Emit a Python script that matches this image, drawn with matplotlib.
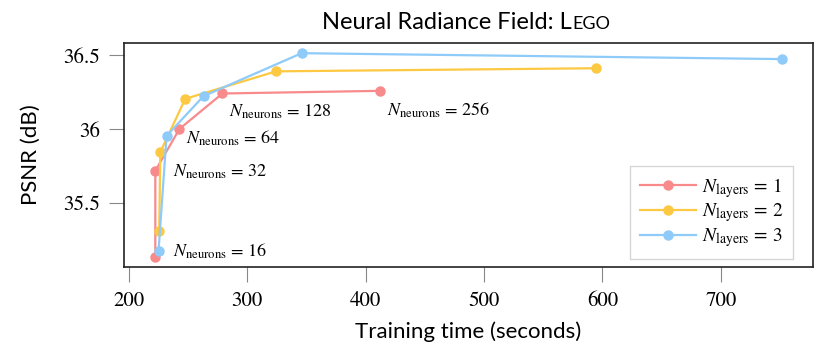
import matplotlib
matplotlib.use("Agg")
import matplotlib.pyplot as plt

plt.rcParams['mathtext.fontset'] = 'stix'

neurons = [16, 32, 64, 128, 256]
time_l1 = [222.3, 222.3, 242.7, 279.0, 412.2]
psnr_l1 = [35.136, 35.719, 36.002, 36.242, 36.260]
time_l2 = [225.6, 226.5, 247.6, 324.3, 594.4]
psnr_l2 = [35.314, 35.845, 36.206, 36.392, 36.413]
time_l3 = [225.0, 231.8, 263.0, 345.9, 751.4]
psnr_l3 = [35.174, 35.955, 36.224, 36.515, 36.475]

colors = ["#f88a8c", "#fdc842", "#8ecbf8"]
sans = "Lato"
serif = "STIXGeneral"

fig = plt.figure(figsize=(8.3, 3.54), dpi=100)
ax = fig.add_axes([124/830, 1-267/354, (813-124)/830, (267-43)/354])

series = [(time_l1, psnr_l1), (time_l2, psnr_l2), (time_l3, psnr_l3)]
for i, (t, p) in enumerate(series):
    ax.plot(t, p, "-o", color=colors[i], lw=1.6, ms=6.5,
            label=r"$N_{\mathrm{layers}}$ = %d" % (i + 1))

# labels next to the one-layer points (offsets in points)
offsets = [(13, 4), (13, -1), (5, -7), (5, -13), (5, -14)]
for n, x, y, off in zip(neurons, time_l1, psnr_l1, offsets):
    ax.annotate(r"$N_{\mathrm{neurons}}$ = %d" % n, xy=(x, y), xytext=off,
                textcoords="offset points", ha="left", va="center",
                fontsize=13, family=serif)

ax.set_yticks([35.5, 36, 36.5])
ax.set_yticklabels(["35.5", "36", "36.5"])
ax.set_xticks([200, 300, 400, 500, 600, 700])
for lab in ax.get_xticklabels() + ax.get_yticklabels():
    lab.set_family(serif)
    lab.set_fontsize(15)
ax.tick_params(direction="out", length=10.5, width=0.8, color="#888888")
ax.tick_params(axis="x", pad=7)
ax.tick_params(axis="y", pad=7)
for s in ax.spines.values():
    s.set_linewidth(1.2)
    s.set_color("#222222")

ax.set_xlabel("Training time (seconds)", family=sans, fontsize=16)
ax.set_ylabel("PSNR (dB)", family=sans, fontsize=16)
ax.xaxis.set_label_coords(0.5, -0.245)
ax.yaxis.set_label_coords(-0.12, 0.5)

leg = ax.legend(loc="lower right", fancybox=False, handlelength=2.9,
                handletextpad=0.3, prop={"family": serif, "size": 14},
                borderpad=0.5, labelspacing=0.1, borderaxespad=0,
                bbox_to_anchor=(0.971, 0.036))
leg.get_frame().set_edgecolor("#cccccc")
leg.get_frame().set_linewidth(1.0)

# title with small caps "Lego"
t1 = fig.text(0, 1-29/354, "Neural Radiance Field: L", family=sans, fontsize=17,
              ha="left", va="baseline")
t2 = fig.text(0, 1-29/354, "EGO", family=sans, fontsize=13, ha="left", va="baseline")
fig.canvas.draw()
r = fig.canvas.get_renderer()
w1 = t1.get_window_extent(r).width
w2 = t2.get_window_extent(r).width
cx = 466
x0 = cx - (w1 + w2) / 2
t1.set_x(x0 / 830)
t2.set_x((x0 + w1) / 830)

fig.savefig("out.png", dpi=100)
